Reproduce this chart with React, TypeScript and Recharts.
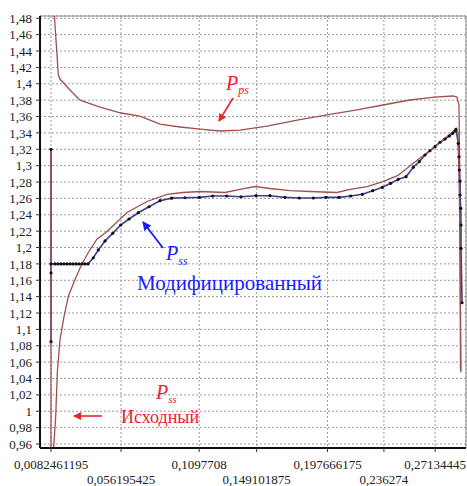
import { LineChart, Line, XAxis, YAxis, CartesianGrid, ReferenceLine } from 'recharts'

// P_ps (upper curve)
const ppsX = [0.0103, 0.01167, 0.01325, 0.01441, 0.02126, 0.02811, 0.04181, 0.05619, 0.0692, 0.0829, 0.0966, 0.1103, 0.124, 0.1377, 0.1562, 0.1768, 0.1973, 0.2178, 0.2356, 0.2541, 0.2706, 0.2836, 0.2863, 0.2877, 0.2884, 0.2887]
const ppsY = [1.49, 1.4535, 1.4107, 1.4058, 1.3924, 1.38, 1.3716, 1.3643, 1.3606, 1.3508, 1.3472, 1.3447, 1.3423, 1.3435, 1.3484, 1.3557, 1.3619, 1.368, 1.3741, 1.3802, 1.3838, 1.3851, 1.3838, 1.3741, 1.258, 1.05]

// P_ss original
const ssOrigX = [0.0082461195, 0.0082461195, 0.00948, 0.01146, 0.01256, 0.01441, 0.01715, 0.02009, 0.02468, 0.02927, 0.03379, 0.03955, 0.0466, 0.0603, 0.074, 0.0877, 0.09866, 0.1103, 0.1274, 0.1377, 0.148, 0.1582, 0.1719, 0.1856, 0.2041, 0.213, 0.2247, 0.2356, 0.2459, 0.2562, 0.2678, 0.2795, 0.2856, 0.287, 0.288, 0.2891]
const ssOrigY = [1.32, 0.94, 0.94, 0.9935, 1.0473, 1.0876, 1.1157, 1.1402, 1.1609, 1.1793, 1.1939, 1.2098, 1.2196, 1.2428, 1.2562, 1.2648, 1.2672, 1.2684, 1.2672, 1.2709, 1.2745, 1.2721, 1.2696, 1.2684, 1.2672, 1.2709, 1.2745, 1.2806, 1.288, 1.3026, 1.3185, 1.3356, 1.3442, 1.3405, 1.2587, 1.0473]

// P_ss modified
const ssModX = [0.0082461195, 0.0082461195, 0.0082461195, 0.0082461195, 0.01099, 0.01304, 0.0151, 0.01715, 0.0192, 0.02126, 0.02331, 0.02537, 0.02742, 0.02948, 0.03153, 0.03359, 0.03722, 0.04064, 0.04523, 0.0505, 0.05599, 0.06167, 0.06804, 0.07537, 0.0829, 0.09092, 0.1, 0.1098, 0.119, 0.1286, 0.1384, 0.1487, 0.1582, 0.1685, 0.1783, 0.1879, 0.1966, 0.2055, 0.2135, 0.2215, 0.2286, 0.2352, 0.2409, 0.2461, 0.2514, 0.2564, 0.2605, 0.2644, 0.2678, 0.2713, 0.2747, 0.2781, 0.2811, 0.2834, 0.285, 0.2856, 0.2872, 0.2877, 0.2879, 0.2884, 0.2884, 0.2889, 0.2891, 0.2891, 0.2898]
const ssModY = [1.32, 1.085, 1.169, 1.18, 1.18, 1.18, 1.18, 1.18, 1.18, 1.18, 1.18, 1.18, 1.18, 1.18, 1.18, 1.18, 1.1875, 1.197, 1.208, 1.2173, 1.2275, 1.2348, 1.2425, 1.2498, 1.2572, 1.2603, 1.2608, 1.2613, 1.2629, 1.2629, 1.262, 1.2633, 1.2633, 1.2613, 1.2605, 1.2605, 1.2613, 1.2613, 1.2629, 1.265, 1.2694, 1.2735, 1.2784, 1.2833, 1.2865, 1.298, 1.3048, 1.313, 1.3182, 1.3232, 1.3285, 1.3325, 1.3362, 1.3395, 1.3423, 1.3444, 1.3273, 1.3109, 1.2947, 1.2812, 1.2641, 1.2479, 1.2275, 1.199, 1.1325]

const xTicks = [0.0082461195, 0.056195425, 0.1097708, 0.149101875, 0.197666175, 0.236274, 0.27134445]
const yTicks = [0.96, 0.98, 1, 1.02, 1.04, 1.06, 1.08, 1.1, 1.12, 1.14, 1.16, 1.18, 1.2, 1.22, 1.24, 1.26, 1.28, 1.3, 1.32, 1.34, 1.36, 1.38, 1.4, 1.42, 1.44, 1.46, 1.48]

const xMin = 0.0007
const xMax = 0.2925
const yMin = 0.9551
const yMax = 1.4828

const toPts = (xs: number[], ys: number[]) => xs.map((x, i) => ({ x, y: ys[i] }))

const pps = toPts(ppsX, ppsY)
const ssOrig = toPts(ssOrigX, ssOrigY)
const ssMod = toPts(ssModX, ssModY)

const SERIF = "'Liberation Serif', 'DejaVu Serif', 'Times New Roman', serif"
const BROWN = '#a24f4f'
const NAVY = '#3f3f90'
const RED = '#e8252b'
const BLUE = '#1a1aff'

const fmt = (v: number) => String(Number(v.toFixed(10))).replace('.', ',')

const XTick = (props: any) => {
  const { x, y, payload, index } = props
  return (
    <text x={x} y={y + (index % 2 ? 30 : 15)} textAnchor="middle" style={{ fontFamily: SERIF }} fontSize={13} fill="#222">
      {fmt(payload.value)}
    </text>
  )
}

export default function App() {
  return (
    <div style={{ position: 'absolute', left: 0, top: 0, width: 467, height: 486, background: '#fff', fontFamily: SERIF }}>
      <LineChart width={467} height={486} margin={{ top: 16, right: 1, bottom: 0, left: 0 }}>
        <CartesianGrid stroke="#9a9a9a" strokeDasharray="2 2" />
        <XAxis
          dataKey="x"
          type="number"
          domain={[xMin, xMax]}
          allowDataOverflow
          ticks={xTicks}
          interval={0}
          height={38}
          tickSize={4}
          tickLine={{ stroke: '#333' }}
          axisLine={{ stroke: '#111', strokeWidth: 2 }}
          tick={<XTick />}
        />
        <YAxis
          type="number"
          domain={[yMin, yMax]}
          allowDataOverflow
          ticks={yTicks}
          interval={0}
          width={40}
          tickSize={4}
          tickMargin={4}
          tickLine={{ stroke: '#333' }}
          axisLine={{ stroke: '#111', strokeWidth: 2 }}
          tickFormatter={(v: number) => fmt(v)}
          tick={{ fontSize: 13, fill: '#222', style: { fontFamily: SERIF } }}
        />
        <ReferenceLine y={yMax} stroke="#8a8a8a" />
        <ReferenceLine x={xMax} stroke="#8a8a8a" />
        <Line
          data={pps}
          dataKey="y"
          stroke={BROWN}
          strokeWidth={1.3}
          dot={false}
          isAnimationActive={false}
        />
        <Line
          data={ssMod}
          dataKey="y"
          stroke={NAVY}
          strokeWidth={1.6}
          dot={{ r: 1.6, fill: '#111', stroke: 'none' }}
          isAnimationActive={false}
        />
        <Line
          data={ssOrig}
          dataKey="y"
          stroke={BROWN}
          strokeWidth={1.3}
          dot={false}
          isAnimationActive={false}
        />
      </LineChart>
      <svg width={467} height={486} style={{ position: 'absolute', left: 0, top: 0, pointerEvents: 'none', fontFamily: SERIF }}>
        <defs>
          <marker id="ar" markerWidth="8" markerHeight="8" refX="7" refY="4" orient="auto" markerUnits="userSpaceOnUse">
            <path d="M0,0 L8,4 L0,8 z" fill={RED} />
          </marker>
          <marker id="ab" markerWidth="9" markerHeight="9" refX="8" refY="4.5" orient="auto" markerUnits="userSpaceOnUse">
            <path d="M0,0 L9,4.5 L0,9 z" fill={BLUE} />
          </marker>
        </defs>
        <text x={226} y={90} fontStyle="italic" fontSize={20} fill={RED}>
          P<tspan fontSize={12} dy={4}>ps</tspan>
        </text>
        <line x1={233} y1={98} x2={219} y2={121} stroke={RED} strokeWidth={1.6} markerEnd="url(#ar)" />
        <text x={166} y={260} fontStyle="italic" fontSize={20} fill={BLUE}>
          P<tspan fontSize={12} dy={5}>ss</tspan>
        </text>
        <line x1={163} y1={248} x2={143} y2={222} stroke={BLUE} strokeWidth={1.8} markerEnd="url(#ab)" />
        <text x={137} y={290} fontSize={21} fill={BLUE}>Модифицированный</text>
        <text x={156} y={399} fontStyle="italic" fontSize={20} fill={RED}>
          P<tspan fontSize={11} dy={4}>ss</tspan>
        </text>
        <text x={121} y={423} fontSize={18} fill={RED}>Исходный</text>
        <line x1={102} y1={416} x2={74} y2={416} stroke={RED} strokeWidth={1.6} markerEnd="url(#ar)" />
      </svg>
    </div>
  )
}
